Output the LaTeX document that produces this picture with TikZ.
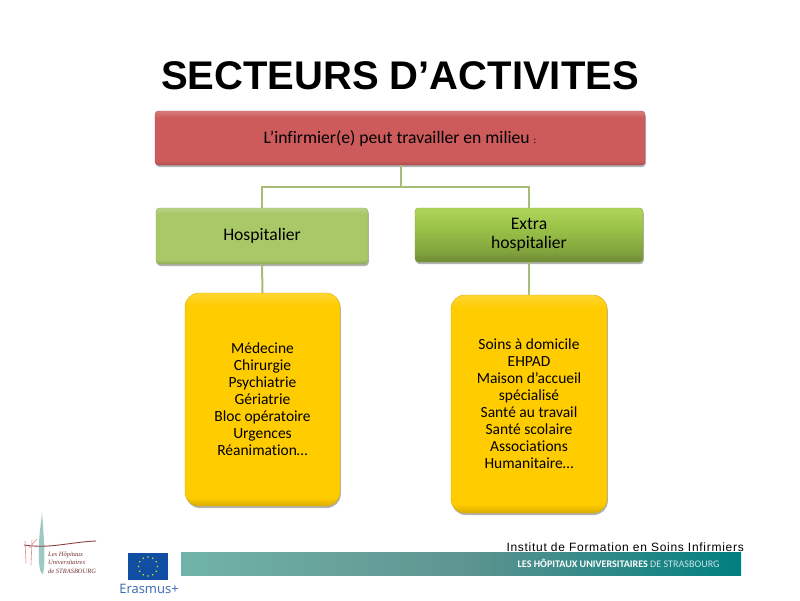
\documentclass[tikz,border=0pt]{standalone}
\usepackage{fontspec}
\setmainfont[Ligatures=NoCommon]{Carlito}
\newfontfamily\titrefont{Liberation Sans}
\newfontfamily\logofont{Liberation Serif}
\newfontfamily\erasmusfont{Open Sans}
\usetikzlibrary{shadows}
\definecolor{rouge300}{HTML}{D87C7D}
\definecolor{rouge500}{HTML}{CD5B5C}
\definecolor{rouge700}{HTML}{AE4D4E}
\definecolor{vert100}{HTML}{BAD385}
\definecolor{vert300}{HTML}{A9C867}
\definecolor{vert400}{HTML}{90AA58}
\definecolor{vert500}{HTML}{9CC449}
\definecolor{vert600}{HTML}{AFD45A}
\definecolor{vert700}{HTML}{84A63E}
\definecolor{vert900}{HTML}{708A35}
\definecolor{jaune300}{HTML}{FFD633}
\definecolor{jaune500}{HTML}{FFCC00}
\definecolor{jaune700}{HTML}{D9AD00}
\definecolor{lien500}{HTML}{A5BD74}
\definecolor{bande100}{HTML}{70B4A9}
\definecolor{bande500}{HTML}{5F9490}
\definecolor{bande900}{HTML}{007F7F}
\definecolor{europe}{HTML}{0F4EA3}
\pgfdeclareverticalshading{fondrouge}{100bp}{color(0bp)=(rouge700); color(25bp)=(rouge700); color(29bp)=(rouge500); color(69bp)=(rouge500); color(75bp)=(rouge300); color(100bp)=(rouge300)}
\pgfdeclareverticalshading{fondhospit}{100bp}{color(0bp)=(vert400); color(25bp)=(vert400); color(29bp)=(vert300); color(70bp)=(vert300); color(75bp)=(vert100); color(100bp)=(vert100)}
\pgfdeclareverticalshading{fondextra}{100bp}{color(0bp)=(vert900); color(25bp)=(vert900); color(36bp)=(vert700); color(58bp)=(vert500); color(75bp)=(vert600); color(100bp)=(vert600)}
\pgfdeclareverticalshading{fondjaune}{100bp}{color(0bp)=(jaune700); color(25bp)=(jaune700); color(27bp)=(jaune500); color(72bp)=(jaune500); color(75bp)=(jaune300); color(100bp)=(jaune300)}
\tikzstyle{boite}=[rectangle, rounded corners=3.5pt, inner sep=0pt, align=center, font=\fontsize{17.6}{20}\selectfont, drop shadow={shadow xshift=0.8pt, shadow yshift=-2pt, opacity=.6}]
\tikzstyle{milieu}=[boite, draw=rouge700, shading=fondrouge]
\tikzstyle{hospit}=[boite, draw=vert400, shading=fondhospit]
\tikzstyle{extra}=[boite, draw=vert700, shading=fondextra]
\tikzstyle{liste}=[boite, rounded corners=14pt, draw=jaune700, shading=fondjaune, font=\fontsize{15.5}{17}\selectfont]
\tikzstyle{lien}=[draw=lien500, line width=2pt]
\begin{document}
\begin{tikzpicture}[x=1pt, y=-1pt]
	\useasboundingbox[fill=white] (0,0) rectangle (800,600);
	\node[font=\titrefont\bfseries\fontsize{40}{40}\selectfont] (titre) at (400,76) {SECTEURS D’ACTIVITES};
	% les boites
	\node[milieu, minimum width=490pt, minimum height=54pt] (travail) at (400,138) {\raisebox{-1.5pt}{L’infirmier(e) peut travailler en milieu {\fontsize{10}{10}\selectfont :}}};
	\node[hospit, minimum width=212pt, minimum height=56pt] (hopital) at (262,236) {Hospitalier};
	\node[extra, minimum width=228pt, minimum height=54pt] (dehors) at (529,235) {\raisebox{-1.5pt}{Extra}\\\raisebox{-1pt}{hospitalier}};
	\node[liste, minimum width=155pt, minimum height=213pt] (services) at (262.5,399.5) {Médecine\\Chirurgie\\Psychiatrie\\Gériatrie\\Bloc opératoire\\Urgences\\Réanimation…};
	\node[liste, minimum width=156pt, minimum height=218pt] (lieux) at (529,404) {Soins à domicile\\EHPAD\\Maison d’accueil\\spécialisé\\Santé au travail\\Santé scolaire\\Associations\\Humanitaire…};
	% les liens
	\coordinate (jonction) at (401,187);
	\draw[lien] (travail.south -| jonction) -- (jonction);
	\draw[lien] (jonction) -| (hopital.north);
	\draw[lien] (jonction) -| (dehors.north);
	\draw[lien] (hopital.south) -- (services.north);
	\draw[lien] (dehors.south) -- (lieux.north);
	% le pied de page
	\shade[left color=bande100, right color=bande900, middle color=bande500] (181,552) rectangle (741,575);
	\node[anchor=base east, inner sep=0pt, font=\titrefont\fontsize{12}{12}\selectfont, text=black] (institut) at (744,551) {\addfontfeature{LetterSpace=6}Institut de Formation en Soins Infirmiers};
	\node[anchor=base west, inner sep=0pt, font=\fontsize{10.1}{11}\selectfont, text=white] (hopitaux) at (517.5,567) {\textbf{LES HÔPITAUX UNIVERSITAIRES} {\color{white!80!bande900}DE STRASBOURG}};
	% le logo des hopitaux
	\fill[bande100!70!white] (42,512) .. controls (43.5,535) and (46,560) .. (43,574) .. controls (38,574) and (38,550) .. (40,530) .. controls (41,522) and (41.5,518) .. (42,512);
	\draw[rouge500!70!black, line width=.9pt] (24,545) .. controls (50,549) and (70,542) .. (96,541);
	\draw[rouge500!70!white, line width=.6pt] (25,541) -- (26,563) (32,540) -- (31,565) (29,548) -- (37,539);
	\node[anchor=north west, inner sep=0pt, align=left, font=\logofont\itshape\fontsize{6.5}{8.7}\selectfont, text=rouge500!55!black] (hus) at (48,551.5) {Les Hôpitaux\\Universitaires\\de STRASBOURG};
	% le drapeau
	\fill[europe] (128,553) rectangle (168,580);
	\foreach \i in {0,30,...,330}
		\fill[yellow!80!green] (148,566.5) ++(\i:9.5) circle (0.9);
	\node[anchor=base, inner sep=0pt, font=\erasmusfont\fontsize{13}{13}\selectfont, text=europe!85!white] (erasmus) at (149,593) {Erasmus+};
\end{tikzpicture}
\end{document}
